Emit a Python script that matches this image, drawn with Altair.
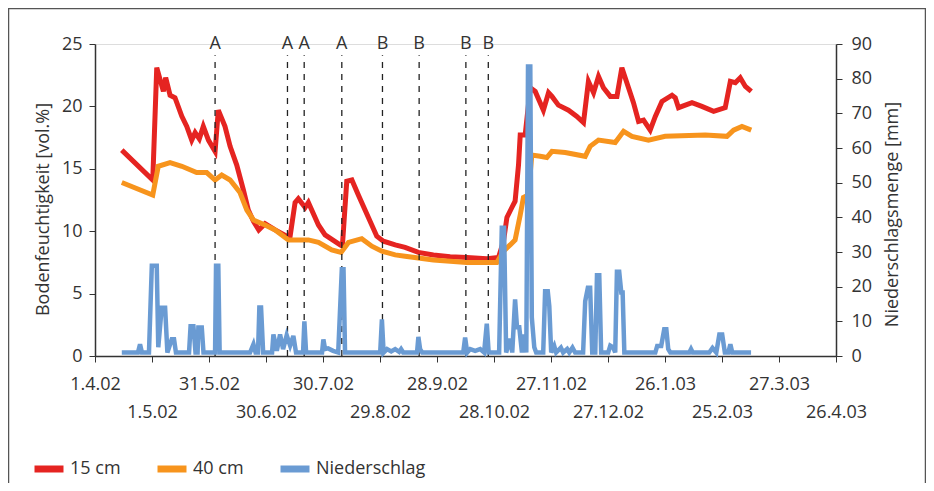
import altair as alt
import pandas as pd

# x = days since 1.4.02
tick_labels = ["1.4.02", "1.5.02", "31.5.02", "30.6.02", "30.7.02", "29.8.02", "28.9.02",
               "28.10.02", "27.11.02", "27.12.02", "26.1.03", "25.2.03", "27.3.03", "26.4.03"]
tick_days = [i * 30 for i in range(len(tick_labels))]

moist_ticks = [0, 5, 10, 15, 20, 25]
rain_ticks = [0, 10, 20, 30, 40, 50, 60, 70, 80, 90]

# Bodenfeuchtigkeit 15 cm (day, vol.%)
cm15 = [(14.1, 16.5), (30.4, 14.1), (32.5, 23.1), (36.0, 21.2), (37.2, 22.3), (39.5, 20.9),
        (42.1, 20.7), (45.7, 19.2), (48.3, 18.4), (50.9, 17.3), (52.7, 17.9), (54.9, 17.4),
        (57.0, 18.4), (59.7, 17.3), (63.2, 16.4), (64.9, 19.7), (68.4, 18.4), (71.1, 16.8),
        (74.6, 15.3), (78.1, 13.3), (80.7, 11.7), (83.4, 10.8), (86.2, 10.1), (89.5, 10.6),
        (94.8, 10.1), (100.9, 9.6), (102.7, 9.6), (105.3, 12.3), (107.0, 12.6), (110.6, 11.9),
        (112.3, 12.3), (117.6, 10.5), (121.1, 9.7), (129.0, 8.9), (130.2, 8.8), (132.5, 14.0),
        (135.2, 14.1), (138.6, 12.9), (143.9, 11.1), (148.3, 9.6), (151.8, 9.2), (158.0, 8.9),
        (163.2, 8.7), (170.2, 8.3), (178.1, 8.1), (186.9, 7.95), (195.7, 7.9), (206.2, 7.8),
        (212.4, 7.9), (215.0, 9.2), (216.8, 11.1), (219.4, 11.9), (221.1, 12.4), (222.9, 15.3),
        (223.8, 17.7), (226.4, 17.7), (228.1, 20.1), (229.0, 21.5), (231.7, 21.2), (236.0, 19.7),
        (238.7, 21.1), (240.5, 20.8), (243.9, 20.1), (249.2, 19.7), (253.6, 19.2), (257.1, 18.7),
        (259.7, 22.0), (262.4, 21.1), (265.0, 22.4), (267.6, 21.5), (271.2, 20.8), (274.7, 20.8),
        (277.3, 23.1), (280.8, 21.5), (283.4, 20.3), (286.1, 18.8), (288.7, 18.9), (292.2, 18.1),
        (294.9, 19.2), (298.4, 20.4), (303.7, 20.9), (305.4, 20.7), (307.1, 19.9), (314.2, 20.3),
        (319.4, 20.0), (325.6, 19.6), (331.7, 19.9), (334.4, 22.0), (337.0, 21.9), (339.6, 22.3),
        (342.3, 21.6), (345.4, 21.2)]

# Bodenfeuchtigkeit 40 cm (day, vol.%)
cm40 = [(14.1, 13.9), (30.4, 12.9), (33.3, 15.2), (39.5, 15.5), (45.7, 15.2), (53.5, 14.7),
        (58.8, 14.7), (63.2, 14.1), (66.7, 14.5), (71.1, 14.1), (76.3, 13.1), (79.9, 11.7),
        (83.4, 10.9), (89.5, 10.5), (94.8, 10.1), (101.8, 9.3), (112.3, 9.3), (117.6, 9.1),
        (124.6, 8.5), (129.5, 8.3), (133.4, 9.1), (140.4, 9.4), (145.7, 8.8), (151.0, 8.4),
        (158.0, 8.1), (163.2, 8.0), (178.1, 7.7), (195.7, 7.5), (211.5, 7.5), (215.0, 8.4),
        (218.5, 8.9), (221.1, 9.3), (223.8, 11.3), (225.5, 12.7), (228.1, 12.9), (229.9, 16.1),
        (234.3, 16.0), (237.8, 15.9), (240.5, 16.4), (247.5, 16.3), (258.0, 16.0), (260.6, 16.8),
        (265.0, 17.3), (273.8, 17.1), (278.2, 18.0), (282.6, 17.6), (291.3, 17.3), (300.1, 17.6),
        (321.2, 17.7), (332.6, 17.6), (336.1, 18.1), (340.5, 18.4), (345.4, 18.1)]

# Niederschlag (day, mm)
rain = [(14.1, 1), (22.6, 1), (23.7, 3.4), (24.7, 1), (28.4, 1), (29.9, 26), (32.5, 26),
        (33.3, 2.5), (35.1, 13.9), (36.9, 13.9), (38.1, 1), (40.4, 4.8), (41.6, 4.8), (42.6, 1),
        (49.5, 1), (50.3, 8.6), (51.8, 8.6), (52.9, 1), (54.0, 1), (54.4, 8.2), (56.2, 8.2),
        (57.1, 1), (63.2, 1), (63.7, 26), (64.9, 26), (65.6, 1), (81.6, 1), (83.4, 3.4),
        (84.5, 1), (85.8, 1), (86.5, 14), (87.4, 14), (88.5, 1), (93.2, 1), (93.9, 6.2),
        (95.7, 1.5), (97.4, 6.2), (99.0, 2), (100.9, 6), (102.7, 3), (104.4, 5.8), (105.8, 1),
        (109.5, 1), (110.2, 10), (111.1, 1), (119.5, 1), (120.2, 4.8), (121.1, 2), (122.7, 2.2),
        (125.3, 1.5), (128.0, 1), (129.9, 25), (130.8, 25), (131.6, 1), (150.1, 1), (151.0, 10.6),
        (151.9, 1), (153.7, 2), (155.9, 1.3), (158.0, 2), (160.1, 1.2), (161.1, 2), (162.2, 1),
        (169.5, 1), (170.2, 5.5), (171.1, 2), (172.2, 1), (193.8, 1), (194.8, 5.3), (195.9, 1),
        (197.5, 2), (200.1, 1.5), (202.7, 2), (204.8, 1), (206.2, 9.3), (207.2, 1), (212.7, 1),
        (214.1, 37), (215.3, 37), (216.4, 1), (218.5, 5), (219.6, 1), (221.1, 16.3), (222.1, 8.3),
        (223.3, 8.3), (224.7, 1), (225.9, 6.2), (227.0, 1), (227.9, 83.5), (229.1, 83.5),
        (229.9, 11.1), (231.2, 2.5), (232.2, 1), (235.9, 1), (236.9, 18.7), (238.3, 18.7),
        (239.1, 14.4), (240.1, 1), (241.7, 2.9), (242.7, 1), (245.2, 2.4), (246.4, 1), (248.5, 2),
        (249.6, 1), (251.3, 2.4), (252.7, 1), (256.9, 1), (258.0, 15.8), (259.4, 19.7),
        (260.6, 19.7), (261.7, 1), (263.3, 1), (264.2, 23.3), (265.4, 23.3), (266.4, 1),
        (270.1, 1), (271.2, 3), (272.7, 2.5), (273.8, 1), (274.7, 24.3), (275.9, 24.3),
        (277.0, 18.3), (277.7, 18.3), (278.6, 1), (294.9, 1), (295.9, 2.9), (298.0, 2.9),
        (299.6, 7.7), (300.7, 7.7), (301.7, 2), (302.8, 1), (312.8, 1), (313.7, 2), (314.6, 1),
        (323.3, 1), (325.0, 2.3), (327.0, 1), (328.6, 6.2), (330.1, 6.2), (331.5, 1), (333.3, 1),
        (334.4, 3.4), (335.4, 1), (345.3, 1)]

event_days = [63.2, 101.3, 110.1, 129.9, 151.3, 170.6, 195.2, 207.0]
event_labels = ["A", "A", "A", "A", "B", "B", "B", "B"]

series_names = ["15 cm", "40 cm", "Niederschlag"]
series_colors = ["#E52421", "#F7941D", "#6A9BD3"]

FONT = "Open Sans"
TXT = "#333333"

moist_df = pd.DataFrame(
    [{"day": d, "value": v, "series": "15 cm"} for d, v in cm15]
    + [{"day": d, "value": v, "series": "40 cm"} for d, v in cm40]
)
rain_df = pd.DataFrame([{"day": d, "mm": v, "series": "Niederschlag"} for d, v in rain])
event_df = pd.DataFrame({"day": event_days, "label": event_labels})
frame_df = pd.DataFrame({"k": [0]})

lbl_js = "[" + ",".join("'" + s + "'" for s in tick_labels) + "]"
label_expr = (f"(round(datum.value/30) % 2 == 1) ? ['', {lbl_js}[round(datum.value/30)]]"
              f" : {lbl_js}[round(datum.value/30)]")

x_scale = alt.Scale(domain=[0, 390], nice=False, zero=False)
x_axis = alt.Axis(values=tick_days, labelExpr=label_expr, title=None, grid=False,
                  labelFontSize=18, labelFont=FONT, labelColor=TXT, tickSize=6,
                  labelPadding=13, labelOverlap=False, labelFlush=False, labelBound=False,
                  labelLineHeight=28, labelBaseline="top", domainColor="#333333",
                  tickColor="#333333", domainWidth=1.5)

color = alt.Color("series:N", scale=alt.Scale(domain=series_names, range=series_colors),
                  legend=alt.Legend(title=None, orient="none", legendX=-64, legendY=407,
                                    direction="horizontal", symbolType="stroke",
                                    symbolSize=841, symbolStrokeWidth=7, labelFontSize=18,
                                    labelFont=FONT, labelColor=TXT, labelOffset=3,
                                    columnPadding=22, symbolOpacity=1))

y_left = alt.Y("value:Q", scale=alt.Scale(domain=[0, 25], nice=False),
               axis=alt.Axis(values=moist_ticks, title="Bodenfeuchtigkeit [vol.%]",
                             orient="left", grid=False, tickSize=6, labelPadding=7,
                             labelFontSize=18, labelFont=FONT, labelColor=TXT,
                             titleFontSize=18, titleFont=FONT, titleFontWeight="normal",
                             titleColor=TXT, titleX=-52, titleY=165, titleAngle=270,
                             titleBaseline="middle", titleAlign="center",
                             domainColor="#333333", tickColor="#333333", domainWidth=1.5))

base_m = alt.Chart(moist_df)
red = base_m.transform_filter(alt.datum.series == "15 cm").mark_line(strokeWidth=5).encode(
    x=alt.X("day:Q", scale=x_scale, axis=x_axis), y=y_left, color=color)
orange = base_m.transform_filter(alt.datum.series == "40 cm").mark_line(strokeWidth=5).encode(
    x=alt.X("day:Q", scale=x_scale), y=alt.Y("value:Q"), color=color)

rules = alt.Chart(event_df).mark_rule(strokeDash=[6, 6], color="#222222", strokeWidth=1.3).encode(
    x=alt.X("day:Q"), y=alt.datum(0), y2=alt.datum(24.1))
letters = alt.Chart(event_df).mark_text(fontSize=18, font=FONT, color=TXT, baseline="middle").encode(
    x=alt.X("day:Q"), y=alt.datum(25), text="label:N")

frame = alt.Chart(frame_df).mark_rect(fill=None, stroke="#555555", strokeWidth=1.5).encode(
    x=alt.value(-86.5), x2=alt.value(830.5), y=alt.value(-35.5), y2=alt.value(470))

left = alt.layer(frame, red, orange, rules, letters)

precip = alt.Chart(rain_df).mark_line(strokeWidth=4.5).encode(
    x=alt.X("day:Q", scale=x_scale),
    y=alt.Y("mm:Q", scale=alt.Scale(domain=[0, 90], nice=False),
            axis=alt.Axis(values=rain_ticks, title="Niederschlagsmenge [mm]", orient="right",
                          grid=False, tickSize=6, labelPadding=9, labelFontSize=18,
                          labelFont=FONT, labelColor=TXT, titleFontSize=18, titleFont=FONT,
                          titleFontWeight="normal", titleColor=TXT, titleAngle=270,
                          titleX=56, titleY=170, titleBaseline="middle", titleAlign="center",
                          domainColor="#333333", tickColor="#333333", domainWidth=1.5)),
    color=color)

chart = alt.layer(left, precip).resolve_scale(y="independent").properties(
    width=741, height=312,
    padding={"left": 87, "top": 36, "right": 90, "bottom": 127},
    autosize=alt.AutoSizeParams(type="none"),
).configure_view(stroke=None).configure(font=FONT)

chart.save("out.html", embed_options={"renderer": "svg", "actions": False})
